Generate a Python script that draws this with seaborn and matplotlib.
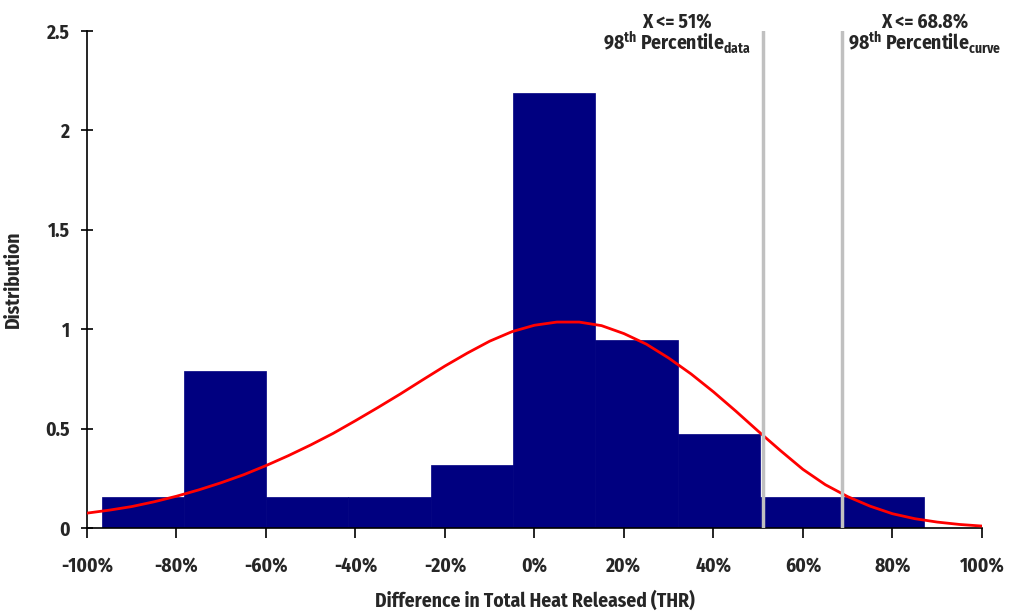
import numpy as np
import pandas as pd
import seaborn as sns
import matplotlib.pyplot as plt
from matplotlib.ticker import FuncFormatter

# -------------------------------------------------------------------
# Data
# -------------------------------------------------------------------

# histogram bin edges (fraction, -1 = -100 %)
bin_edges = [-0.967, -0.783, -0.599, -0.416, -0.232, -0.048,
             0.136, 0.320, 0.503, 0.687, 0.871]
# bar heights (distribution)
bar_heights = [0.158, 0.79, 0.158, 0.158, 0.316, 2.19, 0.948, 0.474, 0.158, 0.158]

# fitted curve, read every 5 %
curve_x = [-1.00, -0.95, -0.90, -0.85, -0.80, -0.75, -0.70, -0.65, -0.60, -0.55,
           -0.50, -0.45, -0.40, -0.35, -0.30, -0.25, -0.20, -0.15, -0.10, -0.05,
           0.00, 0.05, 0.10, 0.15, 0.20, 0.25, 0.30, 0.35, 0.40, 0.45,
           0.50, 0.55, 0.60, 0.65, 0.70, 0.75, 0.80, 0.85, 0.90, 0.95, 1.00]
curve_y = [0.075, 0.090, 0.108, 0.132, 0.160, 0.192, 0.228, 0.268, 0.314, 0.364,
           0.418, 0.476, 0.540, 0.606, 0.674, 0.745, 0.815, 0.880, 0.940, 0.988,
           1.020, 1.036, 1.036, 1.018, 0.978, 0.925, 0.855, 0.775, 0.685, 0.588,
           0.487, 0.389, 0.295, 0.218, 0.158, 0.110, 0.072, 0.047, 0.030, 0.018, 0.010]

# 98th percentile markers
pct_values = [0.51, 0.688]
pct_top = ["X <= 51%", "X <= 68.8%"]
pct_bottom = [r"98$^{\mathrm{th}}$ Percentile$_{\mathrm{data}}$",
              r"98$^{\mathrm{th}}$ Percentile$_{\mathrm{curve}}$"]
pct_text_x = [0.318, 0.872]

# -------------------------------------------------------------------
# Style
# -------------------------------------------------------------------
sns.set_theme(style="white")
FONT = 'Fira Sans Condensed'
plt.rcParams['font.family'] = [FONT, 'DejaVu Sans']
plt.rcParams['font.weight'] = 'bold'
plt.rcParams['mathtext.fontset'] = 'custom'
plt.rcParams['mathtext.rm'] = FONT + ':bold'
plt.rcParams['mathtext.it'] = FONT + ':bold'
plt.rcParams['mathtext.bf'] = FONT + ':bold'

fig = plt.figure(figsize=(10.09, 6.14), dpi=100)
ax = fig.add_axes([0.0862, 0.140, 0.887, 0.8095])

bin_centers = [(a + b) / 2 for a, b in zip(bin_edges[:-1], bin_edges[1:])]
hist_df = pd.DataFrame({"x": bin_centers, "h": bar_heights})

sns.histplot(data=hist_df, x="x", weights="h", bins=bin_edges, stat="count",
             color="#000080", alpha=1, edgecolor="#000080", linewidth=0.5, ax=ax)

curve_df = pd.DataFrame({"x": curve_x, "y": curve_y})
sns.lineplot(data=curve_df, x="x", y="y", color="#ff0000", linewidth=2, ax=ax, zorder=3)

for v in pct_values:
    ax.axvline(v, color="#c0c0c0", linewidth=2.5, zorder=4)

for tx, t1, t2 in zip(pct_text_x, pct_top, pct_bottom):
    ax.text(tx, 2.548, t1, ha="center", va="center", fontsize=14, fontweight="bold", clip_on=False)
    ax.text(tx, 2.44, t2, ha="center", va="center", fontsize=14, fontweight="bold", clip_on=False)

ax.set_xlim(-1, 1)
ax.set_ylim(0, 2.5)
ax.set_xticks(np.arange(-1, 1.01, 0.2))
ax.set_yticks([0, 0.5, 1, 1.5, 2, 2.5])
ax.xaxis.set_major_formatter(FuncFormatter(lambda v, p: f"{round(v * 100):d}%"))
ax.yaxis.set_major_formatter(FuncFormatter(lambda v, p: f"{v:g}"))

sns.despine(ax=ax)
for s in ["left", "bottom"]:
    ax.spines[s].set_color("black")
    ax.spines[s].set_linewidth(1.2)

ax.tick_params(axis="y", direction="inout", length=9, width=1.2, color="black",
               labelsize=14, pad=8, left=True)
ax.tick_params(axis="x", direction="out", length=7, width=1.2, color="black",
               labelsize=14, pad=13, bottom=True)
for lab in ax.get_xticklabels() + ax.get_yticklabels():
    lab.set_fontweight("bold")

ax.set_xlabel("Difference in Total Heat Released (THR)", fontsize=14, fontweight="bold", labelpad=11)
ax.set_ylabel("Distribution", fontsize=14, fontweight="bold", labelpad=16)

plt.savefig("out.png", dpi=100)
